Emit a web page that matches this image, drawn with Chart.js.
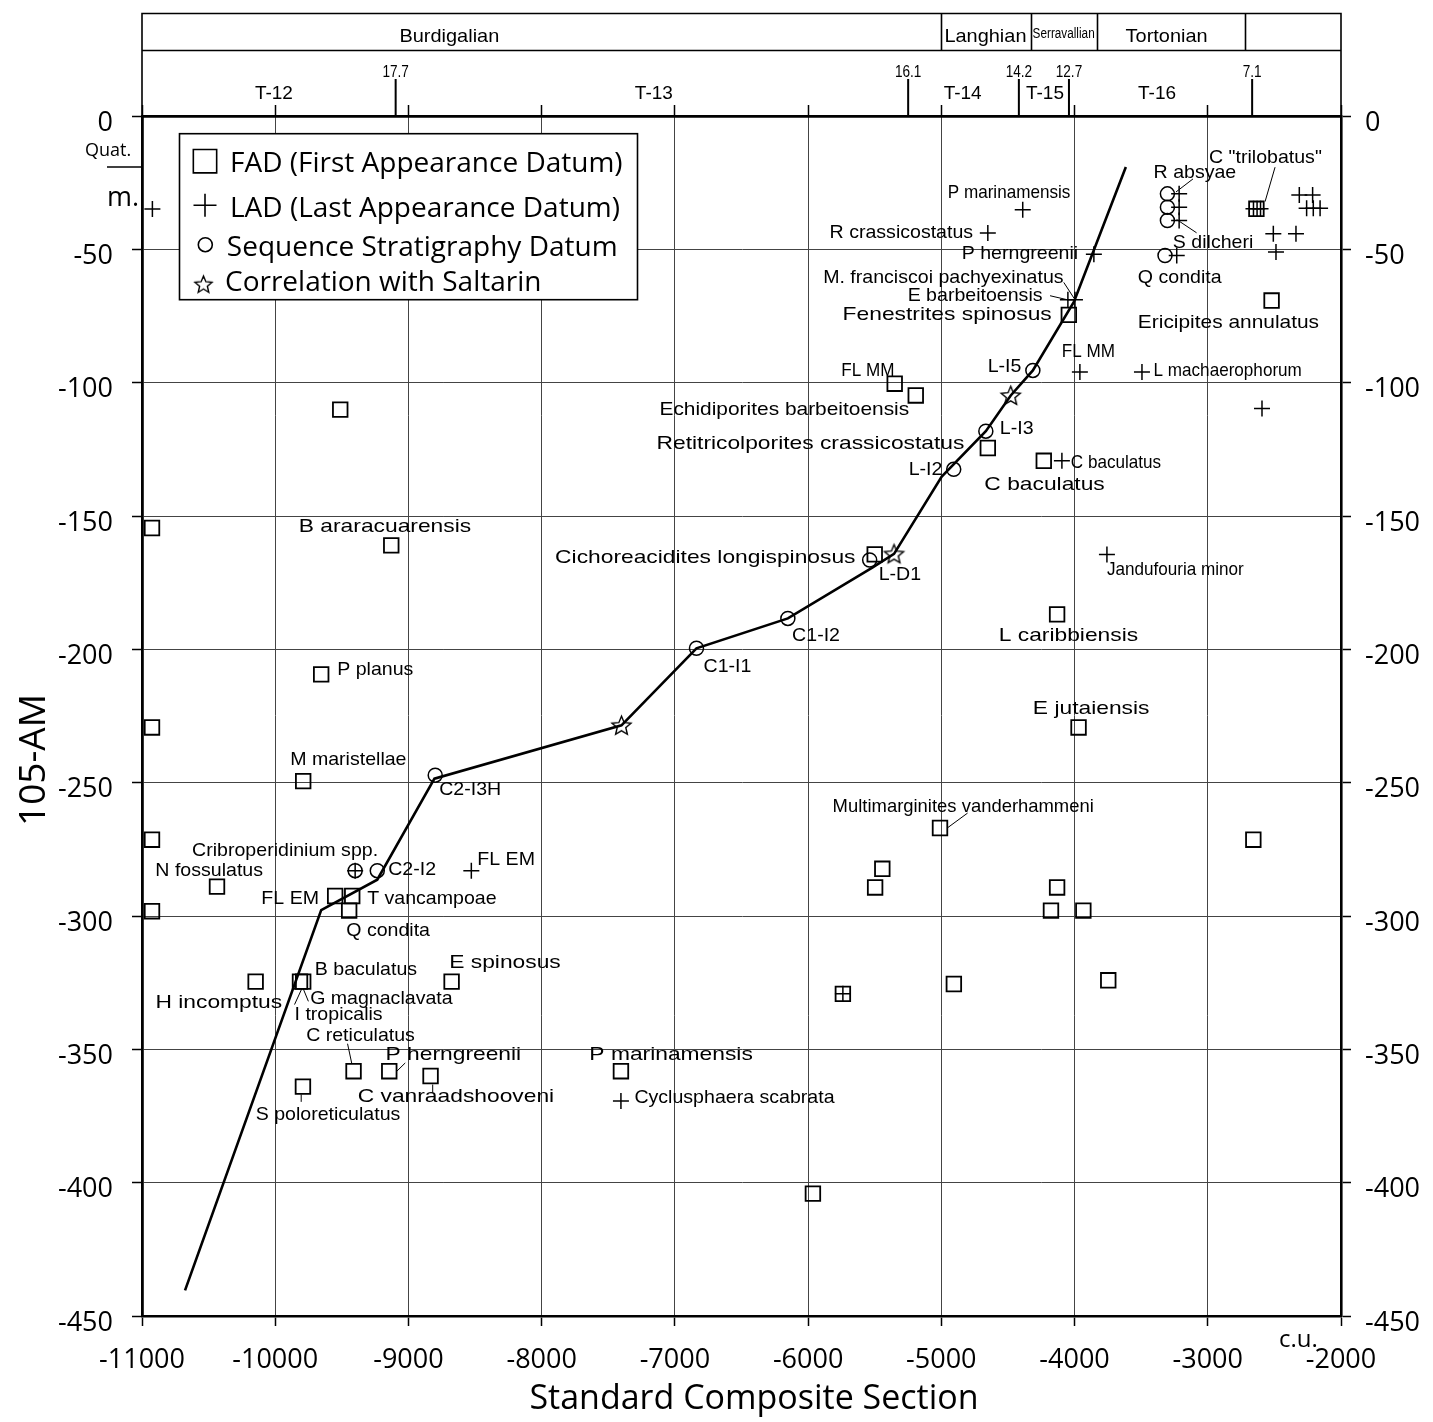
<!DOCTYPE html>
<html>
<head>
<meta charset="utf-8">
<title>105-AM vs Standard Composite Section</title>
<script src="https://cdn.jsdelivr.net/npm/chart.js@4.4.0/dist/chart.umd.min.js"></script>
<style>
  body { margin: 0; background: #fff; }
  #wrap { width: 1433px; height: 1422px; }
</style>
</head>
<body>
<div id="wrap"><canvas id="chart" width="1433" height="1422"></canvas></div>
<script>
// axes: x = standard composite section units, y = depth in well 105-AM (m)
const X_MIN = -11000, X_MAX = -2000, X_STEP = 1000;
const Y_MIN = -450, Y_MAX = 0, Y_STEP = 50;

// FAD (First Appearance Datum) - squares
const fadPoints = [
  [-10925, -154.5], [-10925, -229.3], [-10925, -271.4], [-10925, -298.2],
  [-9512, -110.1], [-9129, -161.0], [-9655, -209.4], [-9790, -249.4],
  [-10437, -289.0], [-9550, -292.5], [-9422, -292.5], [-9445, -298.0],
  [-10147, -324.6], [-9814, -324.6], [-9790, -324.6], [-8676, -324.6],
  [-9412, -358.2], [-9144, -358.2], [-8834, -360.0], [-7405, -358.2], [-9792, -364.0],
  [-5350, -100.4], [-5192, -104.8], [-4651, -124.5], [-4231, -129.3], [-4043, -74.6],
  [-2635, -34.8], [-2521, -69.2], [-5500, -164.4], [-4131, -186.9], [-3970, -229.3],
  [-5010, -267.0], [-5443, -282.3], [-5497, -289.3], [-4131, -289.3], [-4177, -298.0],
  [-3934, -298.0], [-2658, -271.4], [-4906, -325.5], [-3747, -324.1], [-5739, -329.2],
  [-5964, -404.1]
];

// LAD (Last Appearance Datum) - crosses
const ladPoints = [
  [-10922, -34.9], [-4389, -35.2], [-4651, -43.9], [-3855, -51.8],
  [-4050, -68.9], [-3997, -68.9],
  [-3215, -29.2], [-3215, -34.2], [-3215, -39.2], [-3233, -52.3],
  [-2657, -34.8], [-2630, -34.8], [-2604, -34.8],
  [-2313, -29.6], [-2213, -29.6], [-2258, -34.6], [-2208, -34.6], [-2157, -34.6],
  [-2508, -44.2], [-2338, -44.2], [-2488, -51.0],
  [-3960, -96.0], [-3494, -96.0], [-2593, -109.7],
  [-4095, -129.3], [-3757, -164.4],
  [-9400, -283.0], [-8528, -283.0], [-5739, -329.2], [-7405, -369.4]
];

// Sequence stratigraphy datums - circles
const sequencePoints = [
  [-3303, -29.2], [-3303, -34.2], [-3303, -39.2], [-3321, -52.3],
  [-4313, -95.4], [-4666, -118.2], [-4907, -132.5], [-5538, -166.5],
  [-6152, -188.4], [-6838, -199.6], [-8799, -247.2], [-9400, -283.0], [-9234, -283.0]
];

// correlation with Saltarin - stars
const saltarinPoints = [[-7401, -228.5], [-5355, -164.2], [-4479, -104.8]];

// line of correlation
const correlationLine = [
  [-10677, -440.4], [-9655, -297.8], [-9234, -286.4], [-8805, -248.5],
  [-7401, -228.5], [-6838, -199.6], [-6152, -188.4], [-5515, -169.3],
  [-5355, -164.2], [-4997, -135.2], [-4666, -118.2], [-4479, -104.8],
  [-4313, -95.4], [-4005, -69.7], [-3615, -19.1]
];

// chronostratigraphy band above the plot
const stageNames = ['Burdigalian', 'Langhian', 'Serravallian', 'Tortonian'];
const stageLabelX = [-8693, -4669, -4082, -3309];
const stageDividers = [-5005, -4330, -3835, -2717];
const ageLabels = ['17.7', '16.1', '14.2', '12.7', '7.1'];
const ageX = [-9096, -5249, -4418, -4042, -2667];
const zoneLabels = ['T-12', 'T-13', 'T-14', 'T-15', 'T-16'];
const zoneX = [-10010, -7158, -4840, -4222, -3381];

// taxon / datum labels: text, left x, centre y, width style
const taxonLabels = [
  ['P marinamensis', -4952, -28.1, 'c'],
  ['R crassicostatus', -5839, -43.1, 'n'],
  ['P herngreenii', -4847, -51.2, 'n'],
  ['M. franciscoi pachyexinatus', -5887, -59.9, 'n'],
  ['E barbeitoensis', -5253, -66.8, 'n'],
  ['Fenestrites spinosus', -5741, -73.9, 'w'],
  ['R absyae', -3407, -20.6, 'n'],
  ['C "trilobatus"', -2991, -15.0, 'n'],
  ['S dilcheri', -3262, -46.8, 'n'],
  ['Q condita', -3525, -59.9, 'n'],
  ['Ericipites annulatus', -3525, -76.8, 'm'],
  ['FL MM', -4096, -87.9, 'c'],
  ['L machaerophorum', -3407, -94.8, 'c'],
  ['L-I5', -4652, -93.4, 'n'],
  ['FL MM', -5751, -94.8, 'c'],
  ['Echidiporites barbeitoensis', -7116, -109.7, 'm'],
  ['Retitricolporites crassicostatus', -7138, -122.5, 'w'],
  ['L-I3', -4561, -116.6, 'n'],
  ['L-I2', -5245, -132.2, 'n'],
  ['C baculatus', -4028, -129.5, 'c'],
  ['C baculatus', -4677, -137.8, 'w'],
  ['Cichoreacidites longispinosus', -7899, -164.9, 'w'],
  ['L-D1', -5470, -171.5, 'n'],
  ['Jandufouria minor', -3757, -169.7, 'c'],
  ['C1-I2', -6120, -194.3, 'n'],
  ['L caribbiensis', -4569, -194.3, 'w'],
  ['C1-I1', -6785, -206.0, 'n'],
  ['B araracuarensis', -9823, -153.6, 'w'],
  ['P planus', -9535, -207.1, 'n'],
  ['E jutaiensis', -4313, -221.6, 'w'],
  ['M maristellae', -9888, -240.8, 'n'],
  ['C2-I3H', -8769, -252.1, 'n'],
  ['Multimarginites vanderhammeni', -5816, -258.5, 'k'],
  ['Cribroperidinium spp.', -10624, -274.8, 'n'],
  ['N fossulatus', -10900, -282.3, 'n'],
  ['C2-I2', -9152, -282.1, 'n'],
  ['FL EM', -8483, -278.5, 'n'],
  ['FL EM', -10104, -292.9, 'n'],
  ['T vancampoae', -9310, -292.9, 'n'],
  ['Q condita', -9467, -305.1, 'n'],
  ['B baculatus', -9703, -319.5, 'n'],
  ['E spinosus', -8694, -316.9, 'w'],
  ['H incomptus', -10899, -332.1, 'w'],
  ['G magnaclavata', -9738, -330.6, 'n'],
  ['I tropicalis', -9855, -336.3, 'n'],
  ['C reticulatus', -9768, -344.5, 'n'],
  ['P herngreenii', -9172, -351.3, 'w'],
  ['P marinamensis', -7642, -351.3, 'w'],
  ['C vanraadshooveni', -9381, -367.2, 'w'],
  ['Cyclusphaera scabrata', -7304, -367.5, 'n'],
  ['S poloreticulatus', -10147, -374.0, 'n']
];

// leader lines from labels to markers: x1, y1, x2, y2
const leaderLines = [
  [-3111, -23.6, -3239, -28.5],
  [-3084, -43.8, -3234, -38.8],
  [-2495, -19.2, -2570, -32.1],
  [-4081, -62.4, -4003, -68.4],
  [-4184, -67.4, -4055, -68.9],
  [-4803, -261.4, -4950, -266.8],
  [-9457, -347.9, -9425, -355.4],
  [-9024, -355.1, -9087, -358.2],
  [-8818, -363.2, -8818, -366.3],
  [-9805, -366.9, -9805, -369.7],
  [-9798, -327.0, -9855, -333.2],
  [-9792, -327.0, -9751, -332.0]
];

const labelStretch = { w: 1.2, m: 1.1, n: 1.03, k: 0.97, c: 0.9 };
const LABEL_FONT = '19px "Liberation Sans", Arial, sans-serif';
const SANS = '"Open Sans", "Noto Sans", sans-serif';

const toXY = arr => arr.map(p => ({ x: p[0], y: p[1] }));

function makeStar(r, lw) {
  const c = document.createElement('canvas');
  const s = Math.ceil(r * 2 + lw * 2 + 2);
  c.width = s; c.height = s;
  const g = c.getContext('2d');
  g.translate(s / 2, s / 2 + r * 0.08);
  g.beginPath();
  for (let i = 0; i < 10; i++) {
    const rr = i % 2 ? r * 0.45 : r;
    const a = -Math.PI / 2 + i * Math.PI / 5;
    g.lineTo(rr * Math.cos(a), rr * Math.sin(a));
  }
  g.closePath();
  g.fillStyle = '#fff';
  g.fill();
  g.lineWidth = lw;
  g.strokeStyle = '#000';
  g.stroke();
  return c;
}

const starImg = makeStar(10, 1.4);
const legendStar = makeStar(9, 1.4);

function drawStretched(ctx, text, x, y, sx) {
  ctx.save();
  ctx.translate(x, y);
  ctx.scale(sx, 1);
  ctx.fillText(text, 0, 0);
  ctx.restore();
}

function drawStageBand(chart) {
  const { ctx, chartArea } = chart;
  const x = chart.scales.x;
  const L = x.getPixelForValue(X_MIN), R = x.getPixelForValue(X_MAX);
  const top = 13.5, mid = 50.5, base = chartArea.top;
  ctx.save();
  ctx.strokeStyle = '#000';
  ctx.lineWidth = 1.6;
  ctx.beginPath();
  ctx.moveTo(L, base); ctx.lineTo(L, top); ctx.lineTo(R, top); ctx.lineTo(R, base);
  ctx.moveTo(L, mid); ctx.lineTo(R, mid);
  stageDividers.forEach(v => {
    const px = Math.round(x.getPixelForValue(v)) + 0.5;
    ctx.moveTo(px, top); ctx.lineTo(px, mid);
  });
  ctx.stroke();

  ctx.lineWidth = 2;
  ctx.beginPath();
  ageX.forEach(v => {
    const px = x.getPixelForValue(v);
    ctx.moveTo(px, 79); ctx.lineTo(px, base);
  });
  ctx.stroke();

  ctx.fillStyle = '#000';
  ctx.textAlign = 'center';
  ctx.textBaseline = 'alphabetic';
  stageNames.forEach((name, i) => {
    const px = x.getPixelForValue(stageLabelX[i]);
    if (name === 'Serravallian') {
      ctx.font = '14px "Liberation Sans", Arial, sans-serif';
      drawStretched(ctx, name, px, 37.5, 0.84);
    } else {
      ctx.font = '19px "Liberation Sans", Arial, sans-serif';
      drawStretched(ctx, name, px, 41.8, 1.05);
    }
  });
  ctx.font = '16px "Liberation Sans", Arial, sans-serif';
  ageLabels.forEach((t, i) => drawStretched(ctx, t, x.getPixelForValue(ageX[i]), 76.5, 0.85));
  ctx.font = '19px "Liberation Sans", Arial, sans-serif';
  zoneLabels.forEach((t, i) => ctx.fillText(t, x.getPixelForValue(zoneX[i]), 98.5));
  ctx.restore();
}

function drawLegend(chart) {
  const { ctx, chartArea } = chart;
  const bx = chartArea.left + 37.5, by = chartArea.top + 17.7;
  const bw = 458, bh = 166;
  ctx.save();
  ctx.fillStyle = '#fff';
  ctx.fillRect(bx, by, bw, bh);
  ctx.strokeStyle = '#000';
  ctx.lineWidth = 1.6;
  ctx.strokeRect(bx, by, bw, bh);

  const rows = [
    { ds: 1, style: 'rect', r: 16.5, mx: 25.5, my: 27.5, tx: 50.5, ty: 38.6 },
    { ds: 2, style: 'cross', r: 11.5, mx: 25.5, my: 71.5, tx: 50.5, ty: 83.3 },
    { ds: 3, style: 'circle', r: 7, mx: 25.8, my: 111, tx: 47.3, ty: 122.6 },
    { ds: 4, style: legendStar, r: 9, mx: 24, my: 150.5, tx: 45.5, ty: 157.3 }
  ];
  ctx.font = '28px ' + SANS;
  ctx.textBaseline = 'alphabetic';
  ctx.textAlign = 'left';
  rows.forEach(row => {
    ctx.strokeStyle = '#000';
    ctx.fillStyle = 'rgba(0,0,0,0)';
    Chart.helpers.drawPoint(ctx, {
      pointStyle: row.style, radius: row.r, rotation: 0, borderWidth: 1.6
    }, bx + row.mx, by + row.my);
    ctx.fillStyle = '#000';
    ctx.fillText(chart.data.datasets[row.ds].label, bx + row.tx, by + row.ty);
  });
  ctx.restore();
}

function drawSideNotes(chart) {
  const { ctx, chartArea } = chart;
  const y = chart.scales.y;
  const l = chartArea.left;
  ctx.save();
  ctx.fillStyle = '#000';
  ctx.strokeStyle = '#000';
  ctx.textAlign = 'left';
  ctx.textBaseline = 'alphabetic';
  ctx.font = '18px ' + SANS;
  ctx.fillText('Quat.', l - 57, y.getPixelForValue(-12.4) + 6.5);
  ctx.lineWidth = 1.4;
  ctx.beginPath();
  ctx.moveTo(l - 35, y.getPixelForValue(-19.1));
  ctx.lineTo(l, y.getPixelForValue(-19.1));
  ctx.stroke();
  ctx.font = '27px ' + SANS;
  ctx.fillText('m.', l - 35, y.getPixelForValue(-30.3) + 9);
  ctx.font = '24px ' + SANS;
  ctx.fillText('c.u.', chartArea.right - 62, chartArea.bottom + 31);

  // axis titles, placed as in the original figure
  ctx.textAlign = 'center';
  ctx.textBaseline = 'middle';
  ctx.font = '34px ' + SANS;
  ctx.fillText(chart.options.scales.x.title.text, 754, 1399);
  ctx.save();
  ctx.translate(34, 760);
  ctx.rotate(-Math.PI / 2);
  ctx.font = '37px ' + SANS;
  ctx.fillText(chart.options.scales.y.title.text, 0, 0);
  ctx.restore();
  ctx.restore();
}

const overlay = {
  id: 'overlay',
  afterDatasetsDraw(chart) {
    const { ctx } = chart;
    const { x, y } = chart.scales;
    ctx.save();
    ctx.strokeStyle = '#000';
    ctx.lineWidth = 1;
    leaderLines.forEach(([x1, y1, x2, y2]) => {
      ctx.beginPath();
      ctx.moveTo(x.getPixelForValue(x1), y.getPixelForValue(y1));
      ctx.lineTo(x.getPixelForValue(x2), y.getPixelForValue(y2));
      ctx.stroke();
    });
    ctx.fillStyle = '#000';
    ctx.font = LABEL_FONT;
    ctx.textAlign = 'left';
    ctx.textBaseline = 'alphabetic';
    taxonLabels.forEach(([text, lx, ly, style]) => {
      drawStretched(ctx, text, x.getPixelForValue(lx), y.getPixelForValue(ly) + 6.8, labelStretch[style]);
    });
    ctx.restore();
  },
  afterDraw(chart) {
    drawStageBand(chart);
    drawLegend(chart);
    drawSideNotes(chart);
  }
};

const tickFont = { family: SANS, size: 27 };
const plainNumber = v => String(v);

new Chart(document.getElementById('chart'), {
  type: 'scatter',
  data: {
    datasets: [
      {
        label: 'Correlation line',
        data: toXY(correlationLine),
        showLine: true,
        borderColor: '#000',
        borderWidth: 2.6,
        pointRadius: 0,
        tension: 0
      },
      {
        label: 'FAD (First Appearance Datum)',
        data: toXY(fadPoints),
        pointStyle: 'rect',
        pointRadius: 10.3,
        borderColor: '#000',
        borderWidth: 1.8,
        backgroundColor: 'rgba(0,0,0,0)'
      },
      {
        label: 'LAD (Last Appearance Datum)',
        data: toXY(ladPoints),
        pointStyle: 'cross',
        pointRadius: 8,
        borderColor: '#000',
        borderWidth: 1.5
      },
      {
        label: 'Sequence Stratigraphy Datum',
        data: toXY(sequencePoints),
        pointStyle: 'circle',
        pointRadius: 7,
        borderColor: '#000',
        borderWidth: 1.5,
        backgroundColor: 'rgba(0,0,0,0)'
      },
      {
        label: 'Correlation with Saltarin',
        data: toXY(saltarinPoints),
        pointStyle: starImg,
        pointRadius: 10
      }
    ]
  },
  options: {
    responsive: false,
    animation: false,
    events: [],
    layout: { padding: 0 },
    plugins: {
      legend: { display: false },
      tooltip: { enabled: false },
      title: { display: false }
    },
    scales: {
      x: {
        type: 'linear', position: 'bottom', min: X_MIN, max: X_MAX,
        afterFit: s => { s.height = 106; },
        ticks: { stepSize: X_STEP, autoSkip: false, maxRotation: 0, color: '#000', font: tickFont, padding: 18, callback: plainNumber },
        grid: { color: '#444', lineWidth: 1, tickColor: '#000', tickLength: 10, tickWidth: 1.5 },
        border: { color: '#000', width: 2.6 },
        title: { display: false, text: 'Standard Composite Section' }
      },
      x2: {
        type: 'linear', position: 'top', min: X_MIN, max: X_MAX,
        afterFit: s => { s.height = 116; },
        ticks: { stepSize: X_STEP, display: false },
        grid: { drawOnChartArea: false, tickColor: '#000', tickLength: 11, tickWidth: 1.5 },
        border: { color: '#000', width: 2.8 }
      },
      y: {
        type: 'linear', position: 'left', min: Y_MIN, max: Y_MAX,
        afterFit: s => { s.width = 142; },
        ticks: { stepSize: Y_STEP, color: '#000', font: tickFont, padding: 19, labelOffset: 7, callback: plainNumber },
        grid: { color: '#444', lineWidth: 1, tickColor: '#000', tickLength: 10, tickWidth: 1.5 },
        border: { color: '#000', width: 2.8 },
        title: { display: false, text: '105-AM' }
      },
      y2: {
        type: 'linear', position: 'right', min: Y_MIN, max: Y_MAX,
        afterFit: s => { s.width = 92; },
        ticks: { stepSize: Y_STEP, color: '#000', font: tickFont, padding: 14, labelOffset: 7, callback: plainNumber },
        grid: { drawOnChartArea: false, tickColor: '#000', tickLength: 10, tickWidth: 1.5 },
        border: { color: '#000', width: 2.6 }
      }
    }
  },
  plugins: [overlay]
});
</script>
</body>
</html>
